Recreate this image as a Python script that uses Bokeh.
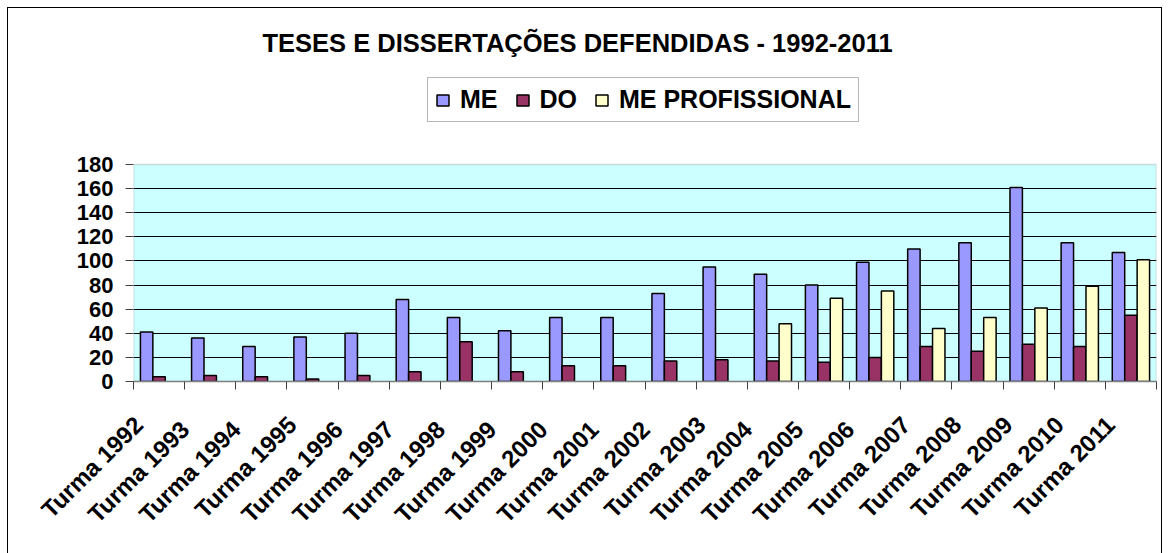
import numpy as np
from bokeh.plotting import figure
from bokeh.models import ColumnDataSource, Range1d, FixedTicker, Legend, LegendItem, BoxAnnotation
from bokeh.transform import dodge
from bokeh.embed import file_html
from bokeh.resources import INLINE

categories = ["Turma 1992", "Turma  1993", "Turma  1994", "Turma 1995", "Turma  1996",
              "Turma  1997", "Turma  1998", "Turma  1999", "Turma  2000", "Turma  2001",
              "Turma  2002", "Turma 2003", "Turma  2004", "Turma  2005", "Turma  2006",
              "Turma 2007", "Turma 2008", "Turma 2009", "Turma 2010", "Turma 2011"]
me = [41, 36, 29, 37, 40, 68, 53, 42, 53, 53, 73, 95, 89, 80, 99, 110, 115, 161, 115, 107]
do = [4, 5, 4, 2, 5, 8, 33, 8, 13, 13, 17, 18, 17, 16, 20, 29, 25, 31, 29, 55]
me_prof = [None, None, None, None, None, None, None, None, None, None, None, None,
           48, 69, 75, 44, 53, 61, 79, 101]
y_ticks = [0, 20, 40, 60, 80, 100, 120, 140, 160, 180]
title_text = "TESES E DISSERTAÇÕES DEFENDIDAS - 1992-2011"
series_names = ["ME", "DO", "ME PROFISSIONAL"]

FONT = "Liberation Sans"
n = len(categories)
pos = list(range(n))
s = 0.40  # labels sit slightly left of the bar groups, as in the original
y_max = y_ticks[-1]

# frame spans the plot area plus the legend strip above it
plot_h, frame_h = 217, 308
src = ColumnDataSource(dict(x=pos, me=me, do=do, mep=[np.nan if v is None else v for v in me_prof]))

p = figure(width=1153, height=545, x_range=Range1d(s - 0.5, n - 0.5 + s),
           y_range=Range1d(0, y_max * frame_h / plot_h),
           output_backend="svg", toolbar_location=None,
           min_border_left=125, min_border_right=5, min_border_top=65, min_border_bottom=172,
           background_fill_color="white", border_fill_color="white",
           outline_line_color=None)
p.styles = {"margin-left": "8px", "margin-top": "8px", "outline": "1px solid black"}

# plot area (cyan) with grey border
area = BoxAnnotation(bottom=0, top=y_max, fill_color="#CCFFFF", fill_alpha=1.0,
                     line_color="#808080", line_width=1.5, level="image")
p.add_layout(area)

bw = 0.243
r_me = p.vbar(x=dodge("x", s - bw, range=p.x_range), top="me", bottom=0, width=bw, source=src,
              fill_color="#9999FF", line_color="black", line_width=1.5)
r_do = p.vbar(x=dodge("x", s, range=p.x_range), top="do", bottom=0, width=bw, source=src,
              fill_color="#993366", line_color="black", line_width=1.5)
r_mp = p.vbar(x=dodge("x", s + bw, range=p.x_range), top="mep", bottom=0, width=bw, source=src,
              fill_color="#FFFFCC", line_color="black", line_width=1.5)

# title
p.title.text = title_text
p.title.align = "left"
p.title.text_font = FONT
p.title.text_font_style = "bold"
p.title.text_font_size = "25.5px"
p.title.text_color = "black"
p.title.offset = 129
p.title.standoff = 34

# y axis
p.yaxis.ticker = FixedTicker(ticks=y_ticks)
p.yaxis.major_label_text_font = FONT
p.yaxis.major_label_text_font_style = "bold"
p.yaxis.major_label_text_font_size = "22px"
p.yaxis.major_label_text_color = "black"
p.yaxis.major_tick_out = 8
p.yaxis.major_tick_in = 0
p.yaxis.minor_tick_out = 0
p.yaxis.minor_tick_in = 0
p.yaxis.axis_line_color = None
p.yaxis.major_tick_line_color = "#404040"
p.yaxis.major_label_standoff = 12

# x axis
p.xaxis.ticker = FixedTicker(ticks=pos, minor_ticks=[i + s - 0.5 for i in range(n + 1)])
p.xaxis.major_label_overrides = {i: c for i, c in zip(pos, categories)}
p.xaxis.major_label_orientation = np.pi / 4
p.xaxis.major_label_text_font = FONT
p.xaxis.major_label_text_font_style = "bold"
p.xaxis.major_label_text_font_size = "24px"
p.xaxis.major_label_text_color = "black"
p.xaxis.major_tick_out = 0
p.xaxis.major_tick_in = 0
p.xaxis.minor_tick_out = 8
p.xaxis.minor_tick_in = 0
p.xaxis.minor_tick_line_color = "#404040"
p.xaxis.axis_line_color = "#808080"
p.xaxis.axis_line_width = 1.5
p.xaxis.major_label_standoff = 31

p.xgrid.grid_line_color = None
p.ygrid.ticker = FixedTicker(ticks=y_ticks[1:-1])
p.ygrid.grid_line_color = "black"
p.ygrid.grid_line_width = 1

legend = Legend(items=[LegendItem(label=series_names[0], renderers=[r_me]),
                       LegendItem(label=series_names[1], renderers=[r_do]),
                       LegendItem(label=series_names[2], renderers=[r_mp])],
                orientation="horizontal", location=(294, 259),
                label_text_font=FONT, label_text_font_style="bold", label_text_font_size="25px",
                label_text_color="black",
                glyph_width=15, glyph_height=14, label_standoff=10, spacing=17, padding=7, margin=0,
                border_line_color="#707070", border_line_width=1.5,
                background_fill_color="white", background_fill_alpha=1.0)
p.add_layout(legend)

open("out.html", "w").write(file_html(p, INLINE))
